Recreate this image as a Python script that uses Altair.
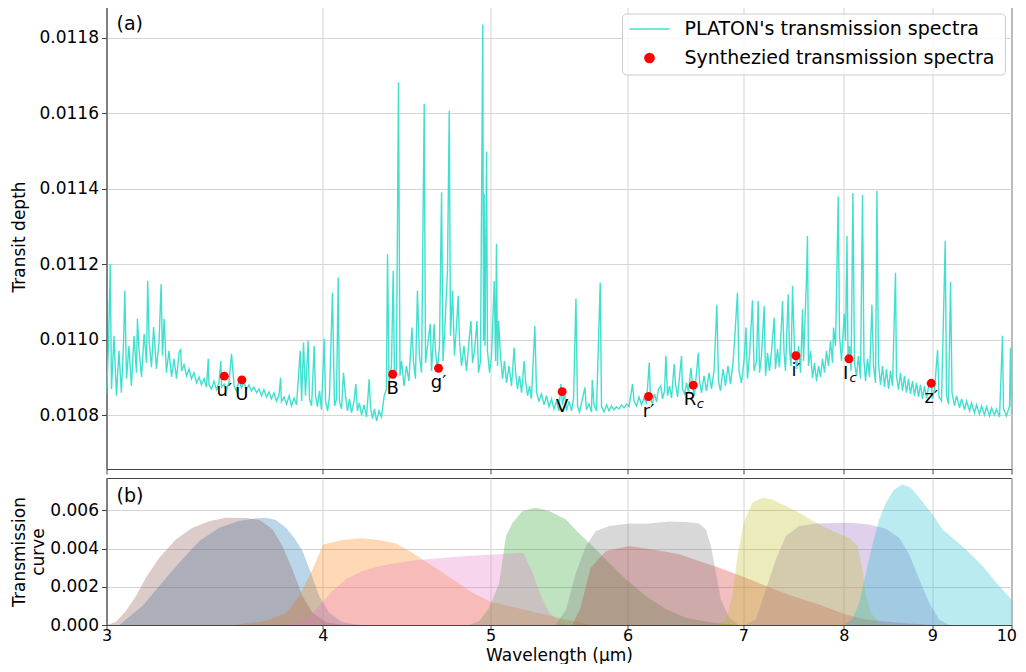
import altair as alt
import pandas as pd

FONT = "DejaVu Sans"
TURQ = "#40E0D0"

# ---------------- spectrum (wavelength in micron, transit depth in ppm) ----------------
spec_wl = [
    3.000, 3.008, 3.015, 3.020, 3.030, 3.040, 3.050, 3.060, 3.069, 3.074,
    3.081, 3.091, 3.101, 3.112, 3.122, 3.126, 3.133, 3.143, 3.154, 3.164,
    3.169, 3.175, 3.185, 3.194, 3.206, 3.217, 3.226, 3.232, 3.239, 3.249,
    3.260, 3.271, 3.282, 3.293, 3.304, 3.311, 3.315, 3.326, 3.337, 3.348,
    3.359, 3.370, 3.382, 3.393, 3.404, 3.416, 3.427, 3.435, 3.438, 3.450,
    3.461, 3.473, 3.484, 3.493, 3.496, 3.508, 3.519, 3.531, 3.543, 3.555,
    3.566, 3.578, 3.590, 3.602, 3.614, 3.626, 3.638, 3.650, 3.663, 3.675,
    3.687, 3.699, 3.712, 3.724, 3.736, 3.749, 3.761, 3.774, 3.782, 3.786,
    3.799, 3.812, 3.825, 3.837, 3.850, 3.863, 3.882, 3.889, 3.899, 3.909,
    3.923, 3.930, 3.941, 3.955, 3.962, 3.972, 3.983, 3.993, 4.008, 4.015,
    4.026, 4.036, 4.052, 4.063, 4.074, 4.083, 4.090, 4.101, 4.112, 4.123,
    4.134, 4.145, 4.156, 4.170, 4.180, 4.189, 4.200, 4.212, 4.226, 4.240,
    4.255, 4.262, 4.274, 4.285, 4.297, 4.311, 4.325, 4.341, 4.354, 4.360,
    4.369, 4.383, 4.393, 4.401, 4.412, 4.424, 4.433, 4.442, 4.457, 4.471,
    4.486, 4.504, 4.513, 4.525, 4.537, 4.549, 4.562, 4.578, 4.586, 4.598,
    4.615, 4.623, 4.639, 4.647, 4.660, 4.672, 4.685, 4.694, 4.703, 4.722,
    4.733, 4.741, 4.754, 4.766, 4.779, 4.790, 4.798, 4.811, 4.827, 4.843,
    4.859, 4.872, 4.882, 4.895, 4.911, 4.921, 4.934, 4.949, 4.954, 4.958,
    4.964, 4.974, 4.980, 4.994, 5.007, 5.025, 5.034, 5.040, 5.047, 5.054,
    5.067, 5.081, 5.094, 5.108, 5.125, 5.142, 5.160, 5.169, 5.183, 5.197,
    5.211, 5.229, 5.239, 5.253, 5.267, 5.280, 5.304, 5.316, 5.333, 5.351,
    5.369, 5.387, 5.405, 5.423, 5.441, 5.459, 5.477, 5.491, 5.503, 5.518,
    5.532, 5.551, 5.569, 5.584, 5.602, 5.614, 5.628, 5.644, 5.669, 5.681,
    5.700, 5.719, 5.725, 5.738, 5.757, 5.786, 5.796, 5.815, 5.835, 5.854,
    5.873, 5.893, 5.913, 5.932, 5.952, 5.972, 5.992, 6.012, 6.040, 6.052,
    6.072, 6.092, 6.113, 6.133, 6.153, 6.176, 6.186, 6.203, 6.219, 6.236,
    6.252, 6.272, 6.286, 6.303, 6.314, 6.328, 6.345, 6.362, 6.384, 6.396,
    6.413, 6.447, 6.455, 6.473, 6.490, 6.507, 6.528, 6.542, 6.559, 6.592,
    6.603, 6.621, 6.643, 6.665, 6.687, 6.709, 6.732, 6.757, 6.772, 6.790,
    6.813, 6.835, 6.858, 6.881, 6.904, 6.918, 6.945, 6.959, 6.982, 7.006,
    7.024, 7.038, 7.057, 7.085, 7.100, 7.123, 7.139, 7.152, 7.171, 7.196,
    7.209, 7.228, 7.247, 7.267, 7.293, 7.305, 7.325, 7.344, 7.374, 7.389,
    7.403, 7.430, 7.443, 7.458, 7.473, 7.493, 7.513, 7.533, 7.553, 7.573,
    7.583, 7.613, 7.623, 7.633, 7.654, 7.674, 7.695, 7.715, 7.736, 7.756,
    7.777, 7.798, 7.818, 7.839, 7.860, 7.881, 7.892, 7.913, 7.941, 7.955,
    7.976, 8.005, 8.019, 8.034, 8.045, 8.062, 8.078, 8.098, 8.115, 8.137,
    8.158, 8.180, 8.202, 8.218, 8.235, 8.257, 8.279, 8.305, 8.323, 8.345,
    8.361, 8.378, 8.401, 8.423, 8.446, 8.468, 8.491, 8.513, 8.536, 8.570,
    8.581, 8.604, 8.627, 8.650, 8.673, 8.696, 8.720, 8.743, 8.766, 8.789,
    8.813, 8.836, 8.860, 8.884, 8.907, 8.931, 8.955, 8.987, 9.003, 9.027,
    9.063, 9.081, 9.111, 9.156, 9.172, 9.196, 9.221, 9.239, 9.270, 9.295,
    9.332, 9.357, 9.394, 9.419, 9.457, 9.482, 9.520, 9.545, 9.583, 9.609,
    9.647, 9.673, 9.712, 9.738, 9.777, 9.803, 9.842, 9.881, 9.894, 9.934,
    9.974, 9.987, 10.000,
]
spec_ppm = [
    10857, 10984, 11201, 10870, 11011, 10852, 10971, 10860, 10997, 11130,
    10897, 10984, 10878, 11011, 10913, 11056, 10971, 10902, 11016, 10939,
    11156, 10997, 10928, 11034, 10923, 10992, 11148, 10958, 11056, 10913,
    10971, 10902, 10950, 10897, 10966, 10976, 10918, 10934, 10905, 10923,
    10897, 10913, 10886, 10902, 10881, 10897, 10875, 10950, 10881, 10870,
    10891, 10868, 10886, 10944, 10875, 10883, 10865, 10889, 10963, 10878,
    10865, 10891, 10873, 10889, 10868, 10881, 10865, 10875, 10860, 10870,
    10852, 10868, 10849, 10862, 10844, 10860, 10838, 10854, 10900, 10836,
    10849, 10830, 10852, 10825, 10846, 10828, 10971, 10838, 10993, 10852,
    10997, 10844, 10825, 10984, 10852, 10823, 10865, 10815, 11003, 10838,
    10812, 10852, 11125, 10825, 10844, 11165, 10838, 10817, 10913, 10852,
    10812, 10844, 10807, 10838, 10883, 10812, 10833, 10801, 10828, 10796,
    10896, 10823, 10791, 10817, 10785, 10812, 10796, 10852, 10870, 11227,
    10891, 10931, 11183, 10897, 10923, 11682, 10905, 10944, 10878, 10931,
    10891, 11033, 10944, 10897, 11130, 10958, 10913, 11626, 10939, 10984,
    11042, 10918, 11042, 10971, 10923, 10984, 11391, 10944, 11011, 11183,
    11607, 11011, 11130, 10958, 11037, 11117, 10997, 10931, 10984, 10918,
    10997, 11050, 10939, 10971, 11050, 10913, 10944, 11836, 10997, 11387,
    10984, 11499, 10971, 10913, 10958, 11156, 10944, 11255, 10931, 11050,
    10958, 10897, 10944, 10886, 10931, 10878, 10980, 10918, 10870, 10905,
    10860, 10944, 10891, 10852, 10878, 10844, 11037, 10860, 10838, 10857,
    10828, 10852, 10823, 10844, 10817, 10838, 10812, 10883, 10828, 10860,
    10812, 10838, 10812, 10844, 11110, 10825, 10809, 10833, 10874, 10815,
    10830, 10809, 10894, 10828, 10812, 11152, 10823, 10809, 10828, 10812,
    10825, 10815, 10823, 10817, 10828, 10820, 10830, 10823, 10883, 10838,
    10825, 10849, 10828, 10846, 10833, 10940, 10844, 10830, 10857, 10836,
    10870, 10878, 10844, 10865, 10958, 10852, 10878, 10846, 10936, 10881,
    10849, 10958, 10870, 10857, 10886, 10860, 10926, 10878, 10852, 10966,
    10891, 10860, 10905, 10865, 10913, 10870, 10918, 11093, 10891, 10865,
    10923, 10878, 10931, 10883, 10939, 10997, 11125, 10918, 10886, 10944,
    11033, 10897, 10958, 11105, 10918, 10944, 11103, 10913, 10958, 11090,
    10905, 10966, 10918, 10971, 11059, 10923, 10976, 10928, 11103, 10966,
    10918, 11121, 10971, 10931, 11143, 10966, 10923, 10984, 10913, 11081,
    10944, 11165, 11275, 10931, 10971, 10899, 10939, 10891, 10931, 10902,
    10950, 10913, 10971, 10931, 10997, 10939, 11033, 10984, 11380, 11011,
    10944, 11069, 10997, 11275, 10958, 10984, 10918, 11389, 10939, 10905,
    10958, 10897, 11384, 10944, 10891, 10950, 10902, 11093, 10931, 10886,
    11395, 10939, 10881, 10931, 10875, 10923, 10870, 10918, 10878, 11178,
    10905, 10868, 10913, 10865, 10905, 10860, 10897, 10857, 10891, 10852,
    10886, 10849, 10881, 10844, 10878, 10846, 10875, 10883, 10844, 10870,
    10973, 10849, 10838, 11262, 10852, 10830, 11154, 10860, 10825, 10852,
    10820, 10844, 10815, 10838, 10812, 10833, 10807, 10828, 10804, 10825,
    10801, 10823, 10799, 10820, 10801, 10817, 10796, 11011, 10817, 10799,
    10825, 10979, 10801,
]

# ---------------- synthesized points ----------------
band_labels = ["u′", "U", "B", "g′", "V", "r′", "R", "i′", "I", "z′"]
band_subs = ["", "", "", "", "", "", "c", "", "c", ""]
band_wl = [3.509, 3.592, 4.390, 4.666, 5.500, 6.170, 6.548, 7.507, 8.055, 8.987]
band_depth = [0.010904, 0.010894, 0.010909, 0.010925, 0.010863,
              0.010850, 0.010880, 0.010958, 0.010950, 0.010885]

# ---------------- filter transmission curves ----------------
filter_names = ["U", "B", "V", "Rc", "Ic", "u'", "g'", "r'", "i'", "z'"]
filter_colors = ["#1f77b4", "#ff7f0e", "#2ca02c", "#d62728", "#9467bd",
                 "#8c564b", "#e377c2", "#7f7f7f", "#bcbd22", "#17becf"]

U_wl = [3.000, 3.051, 3.092, 3.147, 3.218, 3.305, 3.394, 3.485, 3.579, 3.643,
        3.709, 3.758, 3.809, 3.851, 3.894, 3.937, 3.981, 4.034, 4.106, 4.199]
U_tr = [0, 0, 0.00043, 0.00099, 0.00204, 0.00326, 0.00440, 0.00509, 0.00545, 0.00557,
        0.00562, 0.00550, 0.00509, 0.00457, 0.00387, 0.00274, 0.00152, 0.00064, 0.00016, 0]

B_wl = [3.548, 3.709, 3.809, 3.877, 3.946, 4.002, 4.107, 4.208, 4.312, 4.409,
        4.507, 4.629, 4.754, 4.882, 5.013, 5.058, 5.288, 5.528, 5.713]
B_tr = [0, 0.00021, 0.00061, 0.00152, 0.00291, 0.00422, 0.00445, 0.00455, 0.00445, 0.00427,
        0.00379, 0.00309, 0.00239, 0.00169, 0.00117, 0.00112, 0.00070, 0.00029, 0]

V_wl = [4.860, 4.925, 4.992, 5.058, 5.104, 5.149, 5.218, 5.311, 5.406, 5.528,
        5.621, 5.727, 5.856, 5.987, 6.149, 6.314, 6.484, 6.718, 6.959]
V_tr = [0, 0.0002, 0.0009, 0.0022, 0.00466, 0.00536, 0.00597, 0.00614, 0.00597, 0.00553,
        0.00483, 0.00414, 0.00326, 0.00239, 0.00152, 0.00082, 0.00038, 0.00012, 0]

Rc_wl = [5.574, 5.633, 5.713, 5.830, 6.013, 6.231, 6.427, 6.600, 6.778, 7.024,
         7.213, 7.473, 7.743, 8.023, 8.239, 8.612, 9.003]
Rc_tr = [0, 0.00082, 0.00300, 0.00387, 0.00414, 0.00393, 0.00370, 0.00335, 0.00300, 0.00248,
         0.00204, 0.00152, 0.00108, 0.00055, 0.00029, 0.00012, 0]

Ic_wl = [7.008, 7.117, 7.213, 7.309, 7.407, 7.540, 7.709, 8.058, 8.275, 8.461,
         8.612, 8.728, 8.845, 8.963, 9.083, 9.205]
Ic_tr = [0, 0.00029, 0.00186, 0.00343, 0.00466, 0.00518, 0.00532, 0.00536, 0.00527, 0.00504,
         0.00457, 0.00370, 0.00239, 0.00117, 0.00029, 0]

u_wl = [3.000, 3.038, 3.078, 3.120, 3.161, 3.218, 3.290, 3.363, 3.439, 3.516,
        3.611, 3.678, 3.741, 3.791, 3.842, 3.893, 3.946, 4.018, 4.106]
u_tr = [0, 0.00016, 0.00073, 0.00152, 0.00248, 0.00352, 0.00448, 0.00509, 0.00544, 0.00562,
        0.00560, 0.00550, 0.00501, 0.00414, 0.00291, 0.00152, 0.00064, 0.00016, 0]

g_wl = [3.842, 3.911, 3.981, 4.052, 4.125, 4.217, 4.331, 4.488, 4.629, 4.839,
        5.058, 5.216, 5.229, 5.288, 5.347, 5.406, 5.497, 5.528]
g_tr = [0, 0.00029, 0.00100, 0.00178, 0.00239, 0.00283, 0.00312, 0.00335, 0.00347, 0.00361,
        0.00370, 0.00379, 0.00370, 0.00274, 0.00152, 0.00064, 0.00012, 0]

r_wl = [5.450, 5.528, 5.602, 5.677, 5.753, 5.856, 6.013, 6.149, 6.342, 6.484,
        6.600, 6.659, 6.704, 6.748, 6.794, 6.869, 6.959]
r_tr = [0, 0.00080, 0.00274, 0.00414, 0.00492, 0.00518, 0.00532, 0.00531, 0.00542, 0.00539,
        0.00532, 0.00500, 0.00414, 0.00274, 0.00134, 0.00038, 0]

i_wl = [6.778, 6.839, 6.899, 6.945, 7.008, 7.085, 7.180, 7.276, 7.407, 7.540,
        7.709, 7.881, 8.058, 8.147, 8.202, 8.239, 8.294, 8.386, 8.499]
i_tr = [0, 0.00029, 0.00152, 0.00361, 0.00544, 0.00640, 0.00666, 0.00658, 0.00623, 0.00588,
        0.00536, 0.00492, 0.00457, 0.00414, 0.00291, 0.00152, 0.00064, 0.00012, 0]

z_wl = [8.005, 8.090, 8.166, 8.239, 8.316, 8.386, 8.461, 8.555, 8.650, 8.747,
        8.845, 9.003, 9.123, 9.245, 9.412, 9.622, 9.838, 10.000]
z_tr = [0, 0.00029, 0.00117, 0.00274, 0.00431, 0.00553, 0.00640, 0.00710, 0.00736, 0.00719,
        0.00666, 0.00579, 0.00500, 0.00457, 0.00396, 0.00309, 0.00204, 0.00134]

filter_curves = [(U_wl, U_tr), (B_wl, B_tr), (V_wl, V_tr), (Rc_wl, Rc_tr), (Ic_wl, Ic_tr),
                 (u_wl, u_tr), (g_wl, g_tr), (r_wl, r_tr), (i_wl, i_tr), (z_wl, z_tr)]

# ---------------- texts / ticks ----------------
legend_labels = ["PLATON's transmission spectra", "Synthezied transmission spectra"]
panel_tags = ["(a)", "(b)"]
x_ticks = [3, 4, 5, 6, 7, 8, 9, 10]
depth_ticks = [0.0108, 0.0110, 0.0112, 0.0114, 0.0116, 0.0118]
trans_ticks = [0.000, 0.002, 0.004, 0.006]

# ---------------- data frames ----------------
spec_df = pd.DataFrame({"wl": spec_wl, "depth": [v * 1e-6 for v in spec_ppm]})
band_df = pd.DataFrame({"wl": band_wl, "depth": band_depth,
                        "label": band_labels, "sub": band_subs})
rows = []
for name, (wls, trs) in zip(filter_names, filter_curves):
    for w, t in zip(wls, trs):
        rows.append({"filter": name, "wl": w, "tr": t})
filt_df = pd.DataFrame(rows)
one = pd.DataFrame({"k": [0]})

W = 905
H_TOP = 465
H_BOT = 147

xscale = alt.Scale(type="log", domain=[3, 10], nice=False)
yscale_top = alt.Scale(domain=[0.010658, 0.011890], nice=False, zero=False)
yscale_bot = alt.Scale(domain=[0, 0.0077], nice=False, zero=False)

x_top = alt.X("wl:Q", scale=xscale,
              axis=alt.Axis(values=x_ticks, labels=False, title=None, tickSize=5, grid=True))
y_top = alt.Y("depth:Q", scale=yscale_top,
              axis=alt.Axis(values=depth_ticks, format=".4f", title="Transit depth",
                            tickSize=5, labelPadding=3, titlePadding=11, grid=True))

line = alt.Chart(spec_df).mark_line(color=TURQ, strokeWidth=1.4, clip=True).encode(
    x=x_top, y=y_top)

pts = alt.Chart(band_df).mark_circle(color="#ff0000", size=80, opacity=1).encode(
    x=alt.X("wl:Q", scale=xscale), y=alt.Y("depth:Q", scale=yscale_top))

lab_plain = alt.Chart(band_df).transform_filter("datum.sub == ''").mark_text(
    font=FONT, fontSize=18, baseline="alphabetic", align="center", dy=20, color="black"
).encode(x=alt.X("wl:Q", scale=xscale), y=alt.Y("depth:Q", scale=yscale_top), text="label:N")

lab_R = alt.Chart(band_df).transform_filter("datum.label == 'R'").mark_text(
    font=FONT, fontSize=18, baseline="alphabetic", align="right", dx=3, dy=20, color="black"
).encode(x=alt.X("wl:Q", scale=xscale), y=alt.Y("depth:Q", scale=yscale_top), text="label:N")
sub_R = alt.Chart(band_df).transform_filter("datum.label == 'R'").mark_text(
    font=FONT, fontSize=13, fontStyle="italic", baseline="alphabetic", align="left",
    dx=3.5, dy=23, color="black"
).encode(x=alt.X("wl:Q", scale=xscale), y=alt.Y("depth:Q", scale=yscale_top), text="sub:N")

lab_I = alt.Chart(band_df).transform_filter("datum.label == 'I'").mark_text(
    font=FONT, fontSize=18, baseline="alphabetic", align="right", dx=-0.5, dy=20, color="black"
).encode(x=alt.X("wl:Q", scale=xscale), y=alt.Y("depth:Q", scale=yscale_top), text="label:N")
sub_I = alt.Chart(band_df).transform_filter("datum.label == 'I'").mark_text(
    font=FONT, fontSize=13, fontStyle="italic", baseline="alphabetic", align="left",
    dx=0.5, dy=23, color="black"
).encode(x=alt.X("wl:Q", scale=xscale), y=alt.Y("depth:Q", scale=yscale_top), text="sub:N")

tag_a = alt.Chart(one).mark_text(font=FONT, fontSize=19, align="left", baseline="alphabetic",
                                 color="black").encode(
    x=alt.value(10), y=alt.value(26), text=alt.value(panel_tags[0]))

leg_box = alt.Chart(one).mark_rect(fill="white", fillOpacity=0.8, stroke="#cccccc",
                                   strokeWidth=1, cornerRadius=4).encode(
    x=alt.value(516), x2=alt.value(899), y=alt.value(10), y2=alt.value(71))
leg_line = alt.Chart(one).mark_rule(color=TURQ, strokeWidth=1.5).encode(
    x=alt.value(523), x2=alt.value(563), y=alt.value(25))
leg_dot = alt.Chart(one).mark_circle(color="#ff0000", size=115, opacity=1).encode(
    x=alt.value(543), y=alt.value(54))
leg_t1 = alt.Chart(one).mark_text(font=FONT, fontSize=19, align="left", baseline="middle",
                                  color="black").encode(
    x=alt.value(578), y=alt.value(25), text=alt.value(legend_labels[0]))
leg_t2 = alt.Chart(one).mark_text(font=FONT, fontSize=19, align="left", baseline="middle",
                                  color="black").encode(
    x=alt.value(578), y=alt.value(54), text=alt.value(legend_labels[1]))

top = alt.layer(line, pts, lab_plain, lab_R, sub_R, lab_I, sub_I, tag_a,
                leg_box, leg_line, leg_dot, leg_t1, leg_t2).properties(width=W, height=H_TOP)

areas = alt.Chart(filt_df).mark_area(opacity=0.3, clip=True).encode(
    x=alt.X("wl:Q", scale=xscale,
            axis=alt.Axis(values=x_ticks, format="d", title="Wavelength (μm)", tickSize=4,
                          labelPadding=-1.5, titlePadding=3.5, labelFontSize=16,
                          labelFlush=True, labelFlushOffset=5, labelOverlap=False, grid=True)),
    y=alt.Y("tr:Q", scale=yscale_bot, stack=None,
            axis=alt.Axis(values=trans_ticks, format=".3f", title=["Transmission", "curve"],
                          tickSize=5, labelPadding=3, titlePadding=2, titleLineHeight=19,
                          grid=True)),
    color=alt.Color("filter:N", scale=alt.Scale(domain=filter_names, range=filter_colors),
                    legend=None),
)
tag_b = alt.Chart(one).mark_text(font=FONT, fontSize=19, align="left", baseline="alphabetic",
                                 color="black").encode(
    x=alt.value(10), y=alt.value(24), text=alt.value(panel_tags[1]))

bottom = alt.layer(areas, tag_b).properties(width=W, height=H_BOT)

chart = alt.vconcat(top, bottom, spacing=2).properties(
    padding={"left": 1.5, "top": -5, "right": 0, "bottom": 0}
).configure_axis(
    labelFont=FONT, titleFont=FONT, labelFontSize=17, titleFontSize=17,
    titleFontWeight="normal", labelColor="black", titleColor="black",
    domainColor="#444444", tickColor="#444444", gridColor="#d4d4d4", gridWidth=1,
).configure_view(stroke="#444444", strokeWidth=1)

chart.save("out.html", embed_options={"renderer": "svg", "actions": False})
